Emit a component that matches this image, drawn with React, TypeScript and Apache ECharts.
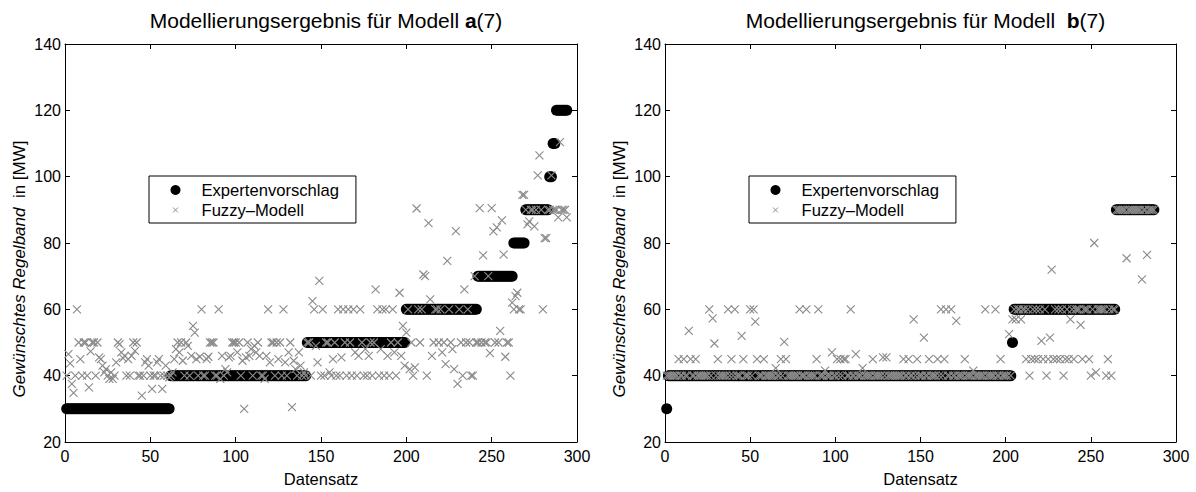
import React, { useEffect, useRef } from "react";
import * as echarts from "echarts";

const FONT = "'Liberation Sans', Arial, Helvetica, sans-serif";

// Axis ranges / ticks
const xMin = 0;
const xMax = 300;
const xStep = 50;
const yMin = 20;
const yMax = 140;
const yStep = 20;

const seriesNames = ["Expertenvorschlag", "Fuzzy\u2013Modell"];

// Model a(7): expert proposal as run-length (level, number of consecutive records)
const expertALevels = [30, 40, 50, 60, 70, 80, 90, 100, 110, 120];
const expertARuns = [61, 80, 58, 42, 21, 7, 14, 2, 2, 7];

// Model a(7): fuzzy model output, records 1..294
const fuzzyA = [
  40, 46.5, 43.7, 37.5, 34.8, 40, 60, 50, 45, 40,
  50, 50, 40, 36.5, 47.3, 50, 50, 40, 50, 45.5,
  45, 43, 41, 42, 40, 39, 41, 39, 40, 44,
  50, 49.5, 47, 45.3, 46, 40, 45, 40, 46, 50,
  47.5, 50, 40, 40, 34, 40, 44, 45, 43, 40,
  36, 40, 40, 44, 45, 40, 36, 40, 43, 40,
  39.5, 40, 41, 45, 48, 50, 47, 50, 44.5, 40,
  50, 49, 40, 46, 55, 53, 45, 40, 45.7, 60,
  40, 40, 45, 45.7, 50, 50, 50, 40, 40, 60,
  39, 46, 40, 42, 41, 45.5, 46, 50, 50, 50,
  47, 50, 40, 44.5, 30, 45.5, 50, 46, 48, 40,
  49, 47, 50, 46, 40, 40, 39, 46, 60, 44,
  50, 50, 40, 50, 45, 50, 40, 60, 44, 40,
  47, 50, 30.5, 44.5, 42, 40, 47, 43, 40, 41,
  40, 50, 50, 40, 62.5, 60, 49, 44, 68.6, 40,
  60, 40, 50, 50, 41, 40, 45, 50, 40, 60,
  40, 45.5, 60, 50, 40, 60, 50, 40, 60, 47,
  40, 46, 60, 50, 40, 48, 40, 46, 50, 40,
  50, 66, 60, 40, 48, 60, 40, 60, 46, 40,
  50, 60, 47, 40, 50, 65, 46, 55, 43, 53,
  60, 42, 50, 40, 42.5, 90.4, 60, 50, 60, 70.5,
  70, 40, 86, 63, 46, 50, 60, 60, 50, 60,
  47, 50, 43.5, 74.6, 60, 50, 48, 42, 83.6, 37.5,
  60, 50, 40, 66, 50, 60, 50, 40, 40, 70,
  50, 50, 90.5, 50, 76.3, 50, 50, 70, 46.8, 90.5,
  83.5, 50, 84.7, 50, 53.5, 86.8, 76.5, 45.7, 50, 50,
  40, 62, 60, 64, 65, 60, 60, 94.5, 94.5, 90,
  85.6, 86.5, 90, 90, 85, 90, 100.4, 106.4, 90, 60,
  81.5, 81.5, 90, 90, 100.4, 90, 90, 90, 87.7, 110.4,
  90, 90, 90, 87.7,
];

// Model b(7): expert proposal as run-length
const expertBLevels = [30, 40, 50, 60, 90];
const expertBRuns = [1, 202, 1, 60, 23];

// Model b(7): fuzzy model output, records 1..287
const fuzzyB = [
  40, 40, 40, 40, 40, 40, 40, 45, 40, 40,
  45, 40, 40, 53.5, 45, 40, 40, 45, 40, 40,
  40, 40, 40, 40, 40, 60, 40, 57.3, 49.7, 40,
  45, 40, 40, 40, 40, 40, 60, 40, 45, 40,
  60, 40, 40, 40, 52, 45, 40, 40, 40, 60,
  40, 60, 56.3, 45, 40, 40, 40, 45, 40, 40,
  40, 40, 40, 40, 42.3, 40, 40, 45, 40, 50.2,
  45, 40, 40, 40, 40, 40, 40, 40, 60, 40,
  40, 40, 60, 40, 40, 40, 40, 40, 45, 60,
  40, 40, 40, 41.5, 40, 40, 40, 47, 40, 40,
  45, 40, 45, 40, 45, 45, 40, 40, 60, 40,
  40, 46.5, 40, 40, 40, 42.3, 40, 40, 40, 40,
  40, 45, 40, 40, 40, 40, 40, 45.5, 40, 45.5,
  40, 40, 40, 40, 40, 40, 40, 40, 40, 45,
  40, 40, 45, 40, 40, 57, 40, 45, 40, 40,
  40, 51.5, 40, 40, 45, 40, 40, 40, 40, 45,
  40, 60, 40, 45, 60, 40, 40, 60, 40, 40,
  56.5, 40, 40, 40, 40, 45, 40, 40, 40, 40,
  41.5, 40, 40, 40, 40, 40, 40, 60, 40, 40,
  40, 40, 40, 60, 40, 40, 45, 40, 40, 40,
  40, 52.5, 40, 57, 60, 57, 60, 60, 57, 60,
  60, 45, 60, 40, 45, 60, 45, 60, 45, 60,
  50.5, 45, 60, 40, 45, 51.5, 72, 45, 60, 45,
  60, 45, 60, 40, 45, 60, 45, 57, 60, 45,
  60, 60, 60, 55.3, 45, 60, 60, 60, 45, 40,
  60, 80, 41, 60, 60, 60, 60, 60, 40, 45,
  60, 40, 60, 60, 90, 90, 90, 90, 90, 90,
  75.4, 90, 90, 90, 90, 90, 90, 90, 90, 69,
  90, 90, 76.4, 90, 90, 90, 90,
];

function expandRuns(levels: number[], runs: number[]): number[] {
  const out: number[] = [];
  levels.forEach((lvl, k) => {
    for (let j = 0; j < runs[k]; j++) out.push(lvl);
  });
  return out;
}

function toPoints(values: number[]): number[][] {
  return values.map((v, i) => [i + 1, v]);
}

const CROSS = "path://M0,0L10,10M10,0L0,10";
const CROSS_LEGEND = "path://M-5,-5M0,0L10,10M10,0L0,10M15,15";
const GRAY = "#8a8a8a";

const panels = [
  {
    left: 65,
    width: 512,
    title: "Modellierungsergebnis für Modell {b|a}(7)",
    expert: expandRuns(expertALevels, expertARuns),
    fuzzy: fuzzyA,
    legendLeft: 149,
    labelX: 19,
  },
  {
    left: 665,
    width: 511,
    title: "Modellierungsergebnis für Modell  {b|b}(7)",
    expert: expandRuns(expertBLevels, expertBRuns),
    fuzzy: fuzzyB,
    legendLeft: 749,
    labelX: 619,
  },
];

function buildOption(): any {
  const top = 44;
  const height = 401;
  const txt = { color: "#000", fontFamily: FONT, fontSize: 16 };
  const grid: any[] = [];
  const xAxis: any[] = [];
  const yAxis: any[] = [];
  const series: any[] = [];
  const title: any[] = [];
  const legend: any[] = [];
  const graphic: any[] = [];

  panels.forEach((p, g) => {
    grid.push({ left: p.left, top, width: p.width, height, containLabel: false });
    const axLine = { show: true, onZero: false, lineStyle: { color: "#000", width: 1 } };
    const tick = { show: true, inside: true, length: 5, lineStyle: { color: "#000", width: 1 } };
    xAxis.push({
      gridIndex: g,
      type: "value",
      min: xMin,
      max: xMax,
      interval: xStep,
      position: "bottom",
      axisLine: axLine,
      axisTick: tick,
      axisLabel: { ...txt, margin: 6 },
      splitLine: { show: false },
      name: "Datensatz",
      nameLocation: "middle",
      nameGap: 28,
      nameTextStyle: { ...txt, fontSize: 16.5 },
    });
    xAxis.push({
      gridIndex: g,
      type: "value",
      min: xMin,
      max: xMax,
      interval: xStep,
      position: "top",
      axisLine: axLine,
      axisTick: tick,
      axisLabel: { show: false },
      splitLine: { show: false },
    });
    yAxis.push({
      gridIndex: g,
      type: "value",
      min: yMin,
      max: yMax,
      interval: yStep,
      position: "left",
      axisLine: axLine,
      axisTick: tick,
      axisLabel: { ...txt, margin: 4 },
      splitLine: { show: false },
    });
    yAxis.push({
      gridIndex: g,
      type: "value",
      min: yMin,
      max: yMax,
      interval: yStep,
      position: "right",
      axisLine: axLine,
      axisTick: tick,
      axisLabel: { show: false },
      splitLine: { show: false },
    });
    series.push({
      type: "scatter",
      name: seriesNames[0],
      xAxisIndex: g * 2,
      yAxisIndex: g * 2,
      symbol: "circle",
      symbolSize: 11,
      itemStyle: { color: "#000", opacity: 1 },
      data: toPoints(p.expert),
      z: 2,
    });
    series.push({
      type: "scatter",
      name: seriesNames[1],
      xAxisIndex: g * 2,
      yAxisIndex: g * 2,
      symbol: CROSS,
      symbolSize: 8,
      itemStyle: { color: "transparent", borderColor: GRAY, borderWidth: 1.1, opacity: 1 },
      data: toPoints(p.fuzzy),
      z: 3,
    });
    title.push({
      text: p.title,
      left: p.left + p.width / 2,
      top: 5,
      textAlign: "center",
      textStyle: {
        color: "#000",
        fontFamily: FONT,
        fontSize: 21,
        fontWeight: "normal",
        rich: { b: { color: "#000", fontFamily: FONT, fontSize: 21, fontWeight: "bold" } },
      },
    });
    legend.push({
      left: p.legendLeft,
      top: 176,
      orient: "vertical",
      backgroundColor: "#fff",
      borderColor: "#000",
      borderWidth: 1,
      borderRadius: 0,
      padding: [4, 17, 3, 21],
      itemGap: 0,
      itemWidth: 42,
      itemHeight: 10,
      selectedMode: false,
      textStyle: { ...txt, fontSize: 16.6, lineHeight: 20 },
      data: [
        {
          name: seriesNames[0],
          icon: "circle",
          itemStyle: { color: "#000", borderWidth: 0, opacity: 1 },
        },
        {
          name: seriesNames[1],
          icon: CROSS_LEGEND,
          itemStyle: { color: "transparent", borderColor: GRAY, borderWidth: 1, opacity: 1 },
        },
      ],
    });
    graphic.push({
      type: "text",
      x: p.labelX,
      y: 269,
      rotation: Math.PI / 2,
      style: {
        text: "{i|Gewünschtes Regelband}  in [MW]",
        fontFamily: FONT,
        fontSize: 17,
        fill: "#000",
        align: "center",
        verticalAlign: "middle",
        rich: { i: { fontStyle: "italic", fontFamily: FONT, fontSize: 17, fill: "#000" } },
      },
    });
  });

  return {
    animation: false,
    backgroundColor: "#fff",
    title,
    legend,
    grid,
    xAxis,
    yAxis,
    series,
    graphic,
  };
}

export default function App() {
  const ref = useRef<HTMLDivElement>(null);
  useEffect(() => {
    if (!ref.current) return;
    const chart = echarts.init(ref.current, undefined, { renderer: "svg" });
    chart.setOption(buildOption());
    return () => chart.dispose();
  }, []);
  return (
    <div
      ref={ref}
      style={{ position: "fixed", left: 0, top: 0, width: 1196, height: 492, background: "#fff" }}
    />
  );
}
